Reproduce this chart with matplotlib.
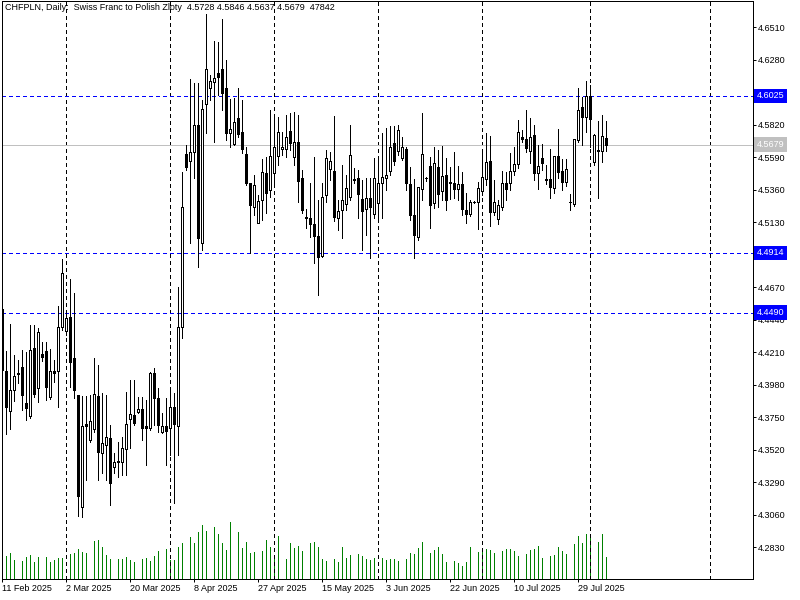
import numpy as np
import pandas as pd
import matplotlib
matplotlib.use("Agg")
import matplotlib.pyplot as plt
import matplotlib.transforms as mtransforms

plt.rcParams["font.family"] = ["Liberation Sans", "DejaVu Sans"]

symbol = "CHFPLN"
description = "Swiss Franc to Polish Zloty"

# daily OHLC, 11 Feb 2025 .. 6 Aug 2025 (Sunday sessions included)
opens = [
    4.4515, 4.4076, 4.3793, 4.3942, 4.4055, 4.4104, 4.3850, 4.3758, 4.4239, 4.3956,
    4.4197, 4.4218, 4.3892, 4.4076, 4.4076, 4.4388, 4.4359, 4.4459, 4.4168, 4.3906,
    4.3113, 4.3701, 4.3588, 4.3666, 4.3899, 4.3496, 4.3552, 4.3602, 4.3396, 4.3432,
    4.3432, 4.3524, 4.3736, 4.3765, 4.3786, 4.3807, 4.3687, 4.3673, 4.4062, 4.3885,
    4.3644, 4.3687, 4.3673, 4.3821, 4.3687, 4.4388, 4.5613, 4.5563, 4.5627, 4.5818,
    4.4983, 4.5967, 4.6080, 4.6122, 4.6186, 4.6214, 4.6080, 4.5761, 4.5684, 4.5868,
    4.5768, 4.5613, 4.5407, 4.5237, 4.5124, 4.5287, 4.5478, 4.5358, 4.5478, 4.5598,
    4.5648, 4.5648, 4.5776, 4.5591, 4.5698, 4.5443, 4.5167, 4.5160, 4.5117, 4.5032,
    4.4890, 4.5322, 4.5506, 4.5492, 4.5160, 4.5216, 4.5259, 4.5308, 4.5436, 4.5443,
    4.5294, 4.5223, 4.5301, 4.5188, 4.5266, 4.5407, 4.5443, 4.5492, 4.5690, 4.5634,
    4.5584, 4.5648, 4.5400, 4.5181, 4.5025, 4.5365, 4.5443, 4.5528, 4.5266, 4.5521,
    4.5351, 4.5464, 4.5414, 4.5407, 4.5365, 4.5400, 4.5216, 4.5188, 4.5273, 4.5273,
    4.5351, 4.5436, 4.5563, 4.5202, 4.5152, 4.5237, 4.5407, 4.5407, 4.5492, 4.5542,
    4.5733, 4.5719, 4.5634, 4.5747, 4.5478, 4.5584, 4.5436, 4.5436, 4.5372, 4.5598,
    4.5492, 4.5414, 4.5273, 4.5259, 4.5712, 4.5945, 4.5875, 4.6023, 4.5556, 4.5641,
    4.5634, 4.5728,
]
highs = [
    4.4543, 4.4218, 4.4409, 4.4190, 4.4154, 4.4225, 4.4211, 4.4402, 4.4402, 4.4381,
    4.4282, 4.4282, 4.4232, 4.4154, 4.4537, 4.4869, 4.4487, 4.4728, 4.4629, 4.3906,
    4.3899, 4.3899, 4.3906, 4.4168, 4.4118, 4.3920, 4.3906, 4.3694, 4.3496, 4.3573,
    4.3609, 4.3928, 4.4013, 4.4013, 4.3892, 4.3892, 4.3871, 4.4069, 4.4097, 4.3956,
    4.3779, 4.3885, 4.3956, 4.3920, 4.4671, 4.5485, 4.5676, 4.6144, 4.6116, 4.6116,
    4.5995, 4.6604, 4.6172, 4.6413, 4.6406, 4.6568, 4.6278, 4.6002, 4.6009, 4.6080,
    4.5995, 4.5662, 4.5407, 4.5464, 4.5322, 4.5577, 4.5591, 4.5924, 4.5875, 4.5875,
    4.5768, 4.5889, 4.5903, 4.5910, 4.5889, 4.5499, 4.5223, 4.5407, 4.5591, 4.5287,
    4.5407, 4.5641, 4.5627, 4.5882, 4.5287, 4.5535, 4.5464, 4.5818, 4.5514, 4.5499,
    4.5429, 4.5443, 4.5443, 4.5584, 4.5584, 4.5761, 4.5797, 4.5811, 4.5811, 4.5818,
    4.5733, 4.5662, 4.5521, 4.5436, 4.5379, 4.5903, 4.5450, 4.5591, 4.5662, 4.5641,
    4.5669, 4.5584, 4.5521, 4.5627, 4.5528, 4.5485, 4.5336, 4.5287, 4.5280, 4.5414,
    4.5620, 4.5761, 4.5740, 4.5429, 4.5287, 4.5492, 4.5485, 4.5620, 4.5662, 4.5853,
    4.5783, 4.5924, 4.5867, 4.5818, 4.5676, 4.5684, 4.5535, 4.5648, 4.5598, 4.5790,
    4.5577, 4.5577, 4.5329, 4.5719, 4.6080, 4.6016, 4.6130, 4.6101, 4.5754, 4.5846,
    4.5889, 4.5846,
]
lows = [
    4.4013, 4.3630, 4.3666, 4.3864, 4.3991, 4.3800, 4.3729, 4.3744, 4.3892, 4.3857,
    4.4147, 4.3871, 4.3878, 4.3998, 4.3821, 4.4367, 4.4331, 4.3963, 4.3885, 4.3050,
    4.3042, 4.3305, 4.3573, 4.3644, 4.3305, 4.3354, 4.3305, 4.3127, 4.3354, 4.3326,
    4.3340, 4.3340, 4.3531, 4.3694, 4.3779, 4.3588, 4.3411, 4.3659, 4.3694, 4.3644,
    4.3637, 4.3411, 4.3482, 4.3142, 4.3482, 4.4310, 4.5499, 4.4983, 4.5443, 4.4813,
    4.4933, 4.5761, 4.5995, 4.5698, 4.6030, 4.5924, 4.5712, 4.5662, 4.5676, 4.5733,
    4.5620, 4.5393, 4.4912, 4.5181, 4.5124, 4.5145, 4.5195, 4.5308, 4.5393, 4.5535,
    4.5606, 4.5591, 4.5641, 4.5535, 4.5273, 4.5195, 4.5089, 4.5025, 4.4841, 4.4614,
    4.4883, 4.5273, 4.5429, 4.5138, 4.5075, 4.5018, 4.5216, 4.5287, 4.5407, 4.5160,
    4.4933, 4.5039, 4.4876, 4.5160, 4.5160, 4.5160, 4.5358, 4.5464, 4.5535, 4.5606,
    4.5570, 4.5358, 4.5145, 4.4876, 4.5004, 4.5287, 4.5422, 4.5089, 4.5230, 4.5237,
    4.5287, 4.5216, 4.5294, 4.5301, 4.5287, 4.5181, 4.5124, 4.5174, 4.5266, 4.5082,
    4.5322, 4.5393, 4.5103, 4.5181, 4.5117, 4.5216, 4.5287, 4.5358, 4.5464, 4.5514,
    4.5698, 4.5627, 4.5549, 4.5429, 4.5365, 4.5499, 4.5400, 4.5301, 4.5337, 4.5443,
    4.5358, 4.5386, 4.5216, 4.5244, 4.5698, 4.5676, 4.5768, 4.5662, 4.5535, 4.5301,
    4.5556, 4.5637,
]
closes = [
    4.4083, 4.3821, 4.3942, 4.4041, 4.4062, 4.3906, 4.3814, 4.4225, 4.3913, 4.4352,
    4.4175, 4.3963, 4.4076, 4.4062, 4.4388, 4.4770, 4.4452, 4.4140, 4.3942, 4.3191,
    4.3687, 4.3687, 4.3722, 4.3913, 4.3503, 4.3566, 4.3609, 4.3283, 4.3432, 4.3439,
    4.3531, 4.3701, 4.3772, 4.3708, 4.3807, 4.3673, 4.3673, 4.4062, 4.3885, 4.3694,
    4.3687, 4.3651, 4.3821, 4.3701, 4.4388, 4.5238, 4.5521, 4.5627, 4.5818, 4.5018,
    4.5931, 4.6214, 4.6130, 4.6151, 4.6158, 4.6045, 4.5761, 4.5790, 4.5839, 4.5754,
    4.5648, 4.5407, 4.5251, 4.5393, 4.5280, 4.5485, 4.5336, 4.5598, 4.5662, 4.5768,
    4.5662, 4.5733, 4.5691, 4.5698, 4.5422, 4.5216, 4.5160, 4.5117, 4.5032, 4.4883,
    4.5308, 4.5584, 4.5563, 4.5167, 4.5209, 4.5287, 4.5372, 4.5606, 4.5429, 4.5329,
    4.5209, 4.5301, 4.5237, 4.5443, 4.5407, 4.5450, 4.5464, 4.5662, 4.5563, 4.5783,
    4.5662, 4.5407, 4.5181, 4.5039, 4.5379, 4.5613, 4.5443, 4.5251, 4.5549, 4.5329,
    4.5457, 4.5287, 4.5407, 4.5365, 4.5400, 4.5223, 4.5188, 4.5273, 4.5273, 4.5372,
    4.5450, 4.5556, 4.5202, 4.5273, 4.5251, 4.5407, 4.5365, 4.5492, 4.5542, 4.5768,
    4.5719, 4.5655, 4.5733, 4.5478, 4.5528, 4.5549, 4.5429, 4.5379, 4.5598, 4.5485,
    4.5414, 4.5506, 4.5273, 4.5719, 4.5924, 4.5875, 4.6023, 4.5860, 4.5747, 4.5634,
    4.5740, 4.5679,
]
volumes = [
    47200, 49300, 55800, 41400, 1000, 39300, 47200, 51500, 36500, 47200,
    1000, 47200, 36500, 41400, 45000, 45000, 1000, 53600, 55800, 64400,
    57900, 55800, 1000, 81500, 83700, 68600, 51500, 42900, 1000, 42900,
    42900, 47200, 40800, 36500, 1000, 43500, 45000, 38600, 49300, 60100,
    1000, 64400, 40800, 40800, 68600, 77200, 1000, 90100, 77200, 100800,
    115800, 103000, 1000, 111500, 96500, 77200, 62200, 122300, 1000, 100800,
    66500, 79400, 55800, 57900, 1000, 60100, 83700, 68600, 51500, 92200,
    1000, 42900, 77200, 66500, 70800, 60100, 1000, 77200, 79400, 68600,
    42900, 38600, 1000, 42900, 36500, 68600, 45000, 51500, 1000, 53600,
    49300, 42900, 40800, 45000, 1000, 45000, 40800, 42900, 42900, 38600,
    1000, 42900, 55800, 53600, 66500, 79400, 1000, 55800, 62200, 68600,
    53600, 36500, 1000, 38600, 34300, 27900, 36500, 68600, 1000, 57900,
    66500, 64400, 62200, 55800, 1000, 60100, 64400, 64400, 60100, 49300,
    1000, 53600, 62200, 64400, 70800, 45000, 1000, 49300, 51500, 68600,
    60100, 53600, 1000, 75100, 92200, 77200, 96500, 96500, 1000, 79400,
    96500, 47842,
]

levels = [4.6025, 4.4914, 4.4490]
last_price = 4.5679
price_ticks = [4.2830, 4.3060, 4.3290, 4.3520, 4.3750, 4.3980, 4.4210, 4.4440, 4.4670,
               4.4900, 4.5130, 4.5360, 4.5590, 4.5820, 4.6050, 4.6280, 4.6510]

dates = pd.date_range("2025-02-11", "2025-08-06")
dates = dates[dates.dayofweek != 5]   # no Saturday bars

# ---------- layout (pixels of the 800x600 picture) ----------
W, H = 800, 600
PX = 0.72                      # one pixel in points at dpi 100
left_px, right_px, top_px, bottom_px = 2.0, 752.7, 0.5, 579.0
bar_step, bar_x0 = 4.0, 2.0

fig = plt.figure(figsize=(W / 100, H / 100), dpi=100, facecolor="white")
pos = [left_px / W, 1 - bottom_px / H, (right_px - left_px) / W, (bottom_px - top_px) / H]
vax = fig.add_axes(pos)
ax = fig.add_axes(pos)
ax.patch.set_visible(False)

x = np.arange(len(opens))
xlim = ((left_px - bar_x0) / bar_step - 0.001, (right_px - bar_x0) / bar_step)

# volumes along the bottom
vax.vlines(x, 0, volumes, color="#008000", lw=PX, antialiased=False)
vax.set_xlim(xlim)
vax.set_ylim(0, max(volumes) * (bottom_px - top_px) / 57)
vax.axis("off")

# month separators (last one is projected into the future)
month_start = [i for i in range(1, len(dates)) if dates[i].month != dates[i - 1].month]
month_start.append(len(dates) - 1 + (pd.Timestamp("2025-09-01") - dates[-1]).days)
for gx in month_start:
    ax.axvline(gx, color="black", lw=PX, ls=(0, (3, 3)), antialiased=False, zorder=1)

for lv in levels:
    ax.axhline(lv, color="#0000FF", lw=PX, ls=(0, (4, 3)), antialiased=False, zorder=1)
ax.axhline(last_price, color="#C0C0C0", lw=PX, antialiased=False, zorder=1)

# candles
o, h, l, c = map(np.array, (opens, highs, lows, closes))
up = c >= o
ax.vlines(x, l, h, color="black", lw=PX, antialiased=False, zorder=3)
ax.bar(x[up], c[up] - o[up], bottom=o[up], width=0.5, facecolor="white",
       edgecolor="black", lw=PX, antialiased=False, zorder=4)
ax.bar(x[~up], o[~up] - c[~up], bottom=c[~up], width=0.5, facecolor="black",
       edgecolor="black", lw=PX, antialiased=False, zorder=4)

ax.set_xlim(xlim)
ax.set_ylim(4.2604, 4.6700)

# price scale on the right; labels sitting under a level tag stay blank
ax.yaxis.tick_right()
ax.set_yticks(price_ticks)
hidden = [v for v in price_ticks if any(abs(v - lv) < 0.0035 for lv in levels)]
ax.set_yticklabels(["" if v in hidden else f"{v:.4f}" for v in price_ticks])
ax.tick_params(axis="y", length=2.4, width=PX, pad=1.2, labelsize=6.5, colors="black")

# date labels every 16 bars, left aligned on the bar
lab_idx = x[::16]
ax.set_xticks(lab_idx)
ax.set_xticklabels([f"{dates[i].day} {dates[i].strftime('%b %Y')}" for i in lab_idx], ha="left")
ax.tick_params(axis="x", length=2.2, width=PX, pad=1.5, labelsize=6.5, colors="black")

for sp in ax.spines.values():
    sp.set_linewidth(PX)
    sp.set_color("black")

# level tags on the price scale
trans = mtransforms.blended_transform_factory(ax.transAxes, ax.transData)
tag_x = (757 - right_px) / (right_px - left_px) + 1
for lv in levels:
    ax.text(tag_x, lv, f"{lv:.4f}", transform=trans, color="white", fontsize=6.5,
            va="center", ha="left", clip_on=False, zorder=10,
            bbox=dict(boxstyle="square,pad=0.3", fc="#0000FF", ec="none"))
ax.text(tag_x, last_price, f"{last_price:.4f}", transform=trans, color="white", fontsize=6.5,
        va="center", ha="left", clip_on=False, zorder=10,
        bbox=dict(boxstyle="square,pad=0.3", fc="#C0C0C0", ec="none"))

title = (f"{symbol}, Daily:  {description}  {opens[-1]:.4f} {highs[-1]:.4f} "
         f"{lows[-1]:.4f} {closes[-1]:.4f}  {volumes[-1]}")
fig.text(5 / W, 1 - 3 / H, title, ha="left", va="top", fontsize=6.5, color="black")

fig.savefig("out.png", dpi=100, facecolor="white")
